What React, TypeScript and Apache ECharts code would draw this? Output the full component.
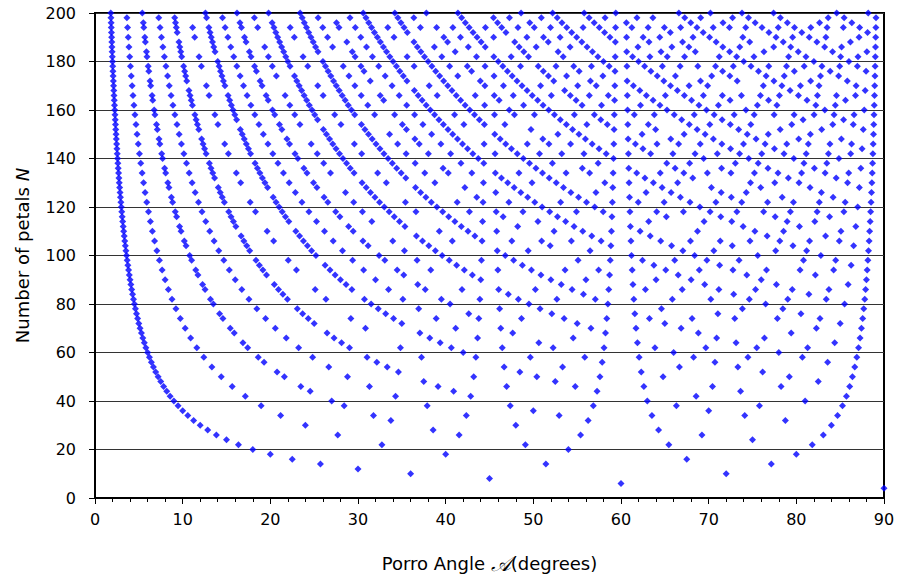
import React, { useEffect, useRef } from "react";
import * as echarts from "echarts";

// Number of petals N (y values of the dot rows, even counts 4..200)
const petalCounts: number[] = [
  4, 6, 8, 10, 12, 14, 16, 18, 20, 22, 24, 26, 28, 30, 32, 34, 36, 38, 40, 42,
  44, 46, 48, 50, 52, 54, 56, 58, 60, 62, 64, 66, 68, 70, 72, 74, 76, 78, 80, 82,
  84, 86, 88, 90, 92, 94, 96, 98, 100, 102, 104, 106, 108, 110, 112, 114, 116, 118, 120, 122,
  124, 126, 128, 130, 132, 134, 136, 138, 140, 142, 144, 146, 148, 150, 152, 154, 156, 158, 160, 162,
  164, 166, 168, 170, 172, 174, 176, 178, 180, 182, 184, 186, 188, 190, 192, 194, 196, 198, 200,
];

// For each petal count, the step numbers k of the dots in that row;
// each dot sits at Porro angle 360·k / N degrees.
const angleSteps: number[][] = [
  [1],
  [1],
  [1],
  [1, 2],
  [1],
  [1, 2, 3],
  [1, 3],
  [1, 2, 4],
  [1, 3],
  [1, 2, 3, 4, 5],
  [1, 5],
  [1, 2, 3, 4, 5, 6],
  [1, 3, 5],
  [1, 2, 4, 7],
  [1, 3, 5, 7],
  [1, 2, 3, 4, 5, 6, 7, 8],
  [1, 5, 7],
  [1, 2, 3, 4, 5, 6, 7, 8, 9],
  [1, 3, 7, 9],
  [1, 2, 4, 5, 8, 10],
  [1, 3, 5, 7, 9],
  [1, 2, 3, 4, 5, 6, 7, 8, 9, 10, 11],
  [1, 5, 7, 11],
  [1, 2, 3, 4, 6, 7, 8, 9, 11, 12],
  [1, 3, 5, 7, 9, 11],
  [1, 2, 4, 5, 7, 8, 10, 11, 13],
  [1, 3, 5, 9, 11, 13],
  [1, 2, 3, 4, 5, 6, 7, 8, 9, 10, 11, 12, 13, 14],
  [1, 7, 11, 13],
  [1, 2, 3, 4, 5, 6, 7, 8, 9, 10, 11, 12, 13, 14, 15],
  [1, 3, 5, 7, 9, 11, 13, 15],
  [1, 2, 4, 5, 7, 8, 10, 13, 14, 16],
  [1, 3, 5, 7, 9, 11, 13, 15],
  [1, 2, 3, 4, 6, 8, 9, 11, 12, 13, 16, 17],
  [1, 5, 7, 11, 13, 17],
  [1, 2, 3, 4, 5, 6, 7, 8, 9, 10, 11, 12, 13, 14, 15, 16, 17, 18],
  [1, 3, 5, 7, 9, 11, 13, 15, 17],
  [1, 2, 4, 5, 7, 8, 10, 11, 14, 16, 17, 19],
  [1, 3, 7, 9, 11, 13, 17, 19],
  [1, 2, 3, 4, 5, 6, 7, 8, 9, 10, 11, 12, 13, 14, 15, 16, 17, 18, 19, 20],
  [1, 5, 11, 13, 17, 19],
  [1, 2, 3, 4, 5, 6, 7, 8, 9, 10, 11, 12, 13, 14, 15, 16, 17, 18, 19, 20, 21],
  [1, 3, 5, 7, 9, 13, 15, 17, 19, 21],
  [1, 2, 4, 7, 8, 11, 13, 14, 16, 17, 19, 22],
  [1, 3, 5, 7, 9, 11, 13, 15, 17, 19, 21],
  [1, 2, 3, 4, 5, 6, 7, 8, 9, 10, 11, 12, 13, 14, 15, 16, 17, 18, 19, 20, 21, 22, 23],
  [1, 5, 7, 11, 13, 17, 19, 23],
  [1, 2, 3, 4, 5, 6, 8, 9, 10, 11, 12, 13, 15, 16, 17, 18, 19, 20, 22, 23, 24],
  [1, 3, 7, 9, 11, 13, 17, 19, 21, 23],
  [1, 2, 4, 5, 7, 8, 10, 11, 13, 14, 16, 19, 20, 22, 23, 25],
  [1, 3, 5, 7, 9, 11, 15, 17, 19, 21, 23, 25],
  [1, 2, 3, 4, 5, 6, 7, 8, 9, 10, 11, 12, 13, 14, 15, 16, 17, 18, 19, 20, 21, 22, 23, 24, 25, 26],
  [1, 5, 7, 11, 13, 17, 19, 23, 25],
  [1, 2, 3, 4, 6, 7, 8, 9, 12, 13, 14, 16, 17, 18, 19, 21, 23, 24, 26, 27],
  [1, 3, 5, 9, 11, 13, 15, 17, 19, 23, 25, 27],
  [1, 2, 4, 5, 7, 8, 10, 11, 13, 14, 16, 17, 20, 22, 23, 25, 26, 28],
  [1, 3, 5, 7, 9, 11, 13, 15, 17, 19, 21, 23, 25, 27],
  [1, 2, 3, 4, 5, 6, 7, 8, 9, 10, 11, 12, 13, 14, 15, 16, 17, 18, 19, 20, 21, 22, 23, 24, 25, 26, 27, 28, 29],
  [1, 7, 11, 13, 17, 19, 23, 29],
  [1, 2, 3, 4, 5, 6, 7, 8, 9, 10, 11, 12, 13, 14, 15, 16, 17, 18, 19, 20, 21, 22, 23, 24, 25, 26, 27, 28, 29, 30],
  [1, 3, 5, 7, 9, 11, 13, 15, 17, 19, 21, 23, 25, 27, 29],
  [1, 2, 4, 5, 8, 10, 11, 13, 16, 17, 19, 20, 22, 23, 25, 26, 29, 31],
  [1, 3, 5, 7, 9, 11, 13, 15, 17, 19, 21, 23, 25, 27, 29, 31],
  [1, 2, 3, 4, 6, 7, 8, 9, 11, 12, 14, 16, 17, 18, 19, 21, 22, 23, 24, 27, 28, 29, 31, 32],
  [1, 5, 7, 13, 17, 19, 23, 25, 29, 31],
  [1, 2, 3, 4, 5, 6, 7, 8, 9, 10, 11, 12, 13, 14, 15, 16, 17, 18, 19, 20, 21, 22, 23, 24, 25, 26, 27, 28, 29, 30, 31, 32, 33],
  [1, 3, 5, 7, 9, 11, 13, 15, 19, 21, 23, 25, 27, 29, 31, 33],
  [1, 2, 4, 5, 7, 8, 10, 11, 13, 14, 16, 17, 19, 20, 22, 25, 26, 28, 29, 31, 32, 34],
  [1, 3, 9, 11, 13, 17, 19, 23, 27, 29, 31, 33],
  [1, 2, 3, 4, 5, 6, 7, 8, 9, 10, 11, 12, 13, 14, 15, 16, 17, 18, 19, 20, 21, 22, 23, 24, 25, 26, 27, 28, 29, 30, 31, 32, 33, 34, 35],
  [1, 5, 7, 11, 13, 17, 19, 23, 25, 29, 31, 35],
  [1, 2, 3, 4, 5, 6, 7, 8, 9, 10, 11, 12, 13, 14, 15, 16, 17, 18, 19, 20, 21, 22, 23, 24, 25, 26, 27, 28, 29, 30, 31, 32, 33, 34, 35, 36],
  [1, 3, 5, 7, 9, 11, 13, 15, 17, 19, 21, 23, 25, 27, 29, 31, 33, 35],
  [1, 2, 4, 7, 8, 11, 13, 14, 16, 17, 19, 22, 23, 26, 28, 29, 31, 32, 34, 37],
  [1, 3, 5, 7, 9, 11, 13, 15, 17, 21, 23, 25, 27, 29, 31, 33, 35, 37],
  [1, 2, 3, 4, 5, 6, 8, 9, 10, 12, 13, 15, 16, 17, 18, 19, 20, 23, 24, 25, 26, 27, 29, 30, 31, 32, 34, 36, 37, 38],
  [1, 5, 7, 11, 17, 19, 23, 25, 29, 31, 35, 37],
  [1, 2, 3, 4, 5, 6, 7, 8, 9, 10, 11, 12, 13, 14, 15, 16, 17, 18, 19, 20, 21, 22, 23, 24, 25, 26, 27, 28, 29, 30, 31, 32, 33, 34, 35, 36, 37, 38, 39],
  [1, 3, 7, 9, 11, 13, 17, 19, 21, 23, 27, 29, 31, 33, 37, 39],
  [1, 2, 4, 5, 7, 8, 10, 11, 13, 14, 16, 17, 19, 20, 22, 23, 25, 26, 28, 29, 31, 32, 34, 35, 37, 38, 40],
  [1, 3, 5, 7, 9, 11, 13, 15, 17, 19, 21, 23, 25, 27, 29, 31, 33, 35, 37, 39],
  [1, 2, 3, 4, 5, 6, 7, 8, 9, 10, 11, 12, 13, 14, 15, 16, 17, 18, 19, 20, 21, 22, 23, 24, 25, 26, 27, 28, 29, 30, 31, 32, 33, 34, 35, 36, 37, 38, 39, 40, 41],
  [1, 5, 11, 13, 17, 19, 23, 25, 29, 31, 37, 41],
  [1, 2, 3, 4, 6, 7, 8, 9, 11, 12, 13, 14, 16, 18, 19, 21, 22, 23, 24, 26, 27, 28, 29, 31, 32, 33, 36, 37, 38, 39, 41, 42],
  [1, 3, 5, 7, 9, 11, 13, 15, 17, 19, 21, 23, 25, 27, 29, 31, 33, 35, 37, 39, 41],
  [1, 2, 4, 5, 7, 8, 10, 11, 13, 14, 16, 17, 19, 20, 22, 23, 25, 26, 28, 31, 32, 34, 35, 37, 38, 40, 41, 43],
  [1, 3, 5, 7, 9, 13, 15, 17, 19, 21, 23, 25, 27, 29, 31, 35, 37, 39, 41, 43],
  [1, 2, 3, 4, 5, 6, 7, 8, 9, 10, 11, 12, 13, 14, 15, 16, 17, 18, 19, 20, 21, 22, 23, 24, 25, 26, 27, 28, 29, 30, 31, 32, 33, 34, 35, 36, 37, 38, 39, 40, 41, 42, 43, 44],
  [1, 7, 11, 13, 17, 19, 23, 29, 31, 37, 41, 43],
  [1, 2, 3, 4, 5, 6, 8, 9, 10, 11, 12, 15, 16, 17, 18, 19, 20, 22, 23, 24, 25, 27, 29, 30, 31, 32, 33, 34, 36, 37, 38, 40, 41, 43, 44, 45],
  [1, 3, 5, 7, 9, 11, 13, 15, 17, 19, 21, 25, 27, 29, 31, 33, 35, 37, 39, 41, 43, 45],
  [1, 2, 4, 5, 7, 8, 10, 11, 13, 14, 16, 17, 19, 20, 22, 23, 25, 26, 28, 29, 32, 34, 35, 37, 38, 40, 41, 43, 44, 46],
  [1, 3, 5, 7, 9, 11, 13, 15, 17, 19, 21, 23, 25, 27, 29, 31, 33, 35, 37, 39, 41, 43, 45],
  [1, 2, 3, 4, 6, 7, 8, 9, 11, 12, 13, 14, 16, 17, 18, 21, 22, 23, 24, 26, 27, 28, 29, 31, 32, 33, 34, 36, 37, 39, 41, 42, 43, 44, 46, 47],
  [1, 5, 7, 11, 13, 17, 19, 23, 25, 29, 31, 35, 37, 41, 43, 47],
  [1, 2, 3, 4, 5, 6, 7, 8, 9, 10, 11, 12, 13, 14, 15, 16, 17, 18, 19, 20, 21, 22, 23, 24, 25, 26, 27, 28, 29, 30, 31, 32, 33, 34, 35, 36, 37, 38, 39, 40, 41, 42, 43, 44, 45, 46, 47, 48],
  [1, 3, 5, 9, 11, 13, 15, 17, 19, 23, 25, 27, 29, 31, 33, 37, 39, 41, 43, 45, 47],
  [1, 2, 4, 5, 7, 8, 10, 13, 14, 16, 17, 19, 20, 23, 25, 26, 28, 29, 31, 32, 34, 35, 37, 38, 40, 41, 43, 46, 47, 49],
  [1, 3, 7, 9, 11, 13, 17, 19, 21, 23, 27, 29, 31, 33, 37, 39, 41, 43, 47, 49],
];

const xTickLabels = ["0", "10", "20", "30", "40", "50", "60", "70", "80", "90"];
const yTickLabels = ["0", "20", "40", "60", "80", "100", "120", "140", "160", "180", "200"];

const FONT = "DejaVu Sans";

export default function App() {
  const ref = useRef<HTMLDivElement>(null);

  useEffect(() => {
    if (!ref.current) return;
    const chart = echarts.init(ref.current, undefined, { renderer: "svg" });

    const points: [number, number][] = [];
    petalCounts.forEach((n, i) => {
      (angleSteps[i] || []).forEach((k) => {
        points.push([(360 * k) / n, n]);
      });
    });

    chart.setOption({
      animation: false,
      backgroundColor: "#ffffff",
      grid: {
        left: 95,
        right: 14,
        top: 13,
        bottom: 79,
        show: true,
        borderColor: "#000",
        borderWidth: 2,
        backgroundColor: "transparent",
      },
      xAxis: {
        type: "value",
        min: 0,
        max: 90,
        interval: 10,
        axisLine: { show: true, onZero: false, lineStyle: { color: "#000", width: 2 } },
        axisTick: { show: true, length: 6, lineStyle: { color: "#000", width: 1 } },
        minorTick: { show: true, splitNumber: 5, length: 4, lineStyle: { color: "#000", width: 1 } },
        splitLine: { show: false },
        axisLabel: {
          color: "#000",
          fontFamily: FONT,
          fontSize: 16,
          margin: 13,
          formatter: (v: number) => xTickLabels[Math.round(v / 10)] ?? String(v),
        },
        name: "Porro Angle {sc|𝒜}(degrees)",
        nameLocation: "middle",
        nameGap: 55,
        nameTextStyle: {
          color: "#000",
          fontFamily: FONT,
          fontSize: 18,
          rich: {
            sc: { fontFamily: "DejaVu Serif", fontStyle: "italic", fontSize: 21, color: "#000" },
          },
        },
      },
      yAxis: {
        type: "value",
        min: 0,
        max: 200,
        interval: 20,
        axisLine: { show: true, onZero: false, lineStyle: { color: "#000", width: 2 } },
        axisTick: { show: true, length: 6, lineStyle: { color: "#000", width: 1 } },
        splitLine: { show: true, lineStyle: { color: "#333", width: 1 } },
        axisLabel: {
          color: "#000",
          fontFamily: FONT,
          fontSize: 16,
          margin: 19,
          formatter: (v: number) => yTickLabels[Math.round(v / 20)] ?? String(v),
        },
        name: "Number of petals {it|N}",
        nameLocation: "middle",
        nameGap: 64,
        nameTextStyle: {
          color: "#000",
          fontFamily: FONT,
          fontSize: 18,
          rich: {
            it: { fontFamily: FONT, fontStyle: "italic", fontSize: 18, color: "#000" },
          },
        },
      },
      series: [
        {
          type: "scatter",
          symbol: "diamond",
          symbolSize: [7, 7],
          itemStyle: { color: "#0000ff" },
          data: points,
          z: 5,
        },
      ],
    });

    return () => chart.dispose();
  }, []);

  return (
    <div
      ref={ref}
      style={{ position: "absolute", left: 0, top: 0, width: 898, height: 579 }}
    />
  );
}
